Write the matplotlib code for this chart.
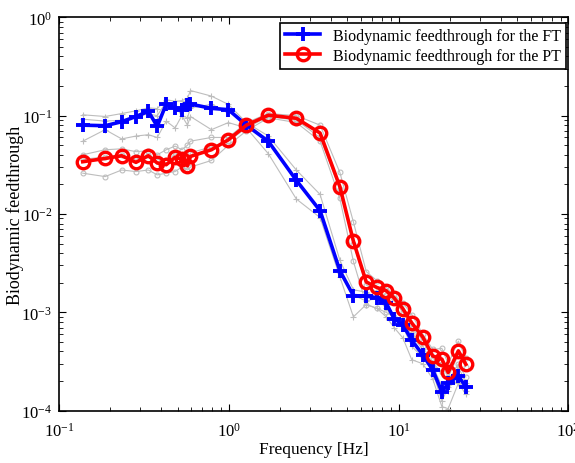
import numpy as np
import matplotlib
matplotlib.use("Agg")
import matplotlib.pyplot as plt

plt.rcParams['font.family'] = ['Liberation Serif', 'DejaVu Serif']
plt.rcParams['mathtext.fontset'] = 'custom'
plt.rcParams['mathtext.rm'] = 'Liberation Serif'

# frekvencije [Hz]
freq = [0.138, 0.187, 0.234, 0.284, 0.336, 0.379, 0.428, 0.483, 0.529, 0.571,
        0.595, 0.79, 0.995, 1.27, 1.71, 2.5, 3.45, 4.51, 5.42, 6.45,
        7.45, 8.45, 9.42, 10.6, 11.96, 13.9, 15.9, 18.0, 19.6, 22.5, 24.9]

# srednje vrijednosti
bdft_ft = [0.080, 0.079, 0.0867, 0.098, 0.1106, 0.0778, 0.131, 0.1186, 0.115, 0.128,
           0.131, 0.1186, 0.115, 0.080, 0.0548, 0.022, 0.0108, 0.00265, 0.00148, 0.00146,
           0.00141, 0.00125, 0.00086, 0.00075, 0.00052, 0.00037, 0.00026, 0.000155, 0.00019, 0.000225, 0.000175]
bdft_pt = [0.034, 0.0367, 0.0391, 0.0335, 0.0391, 0.033, 0.0317, 0.0377, 0.0362, 0.0309,
           0.0385, 0.045, 0.0569, 0.080, 0.101, 0.094, 0.0665, 0.019, 0.0053, 0.00204,
           0.00179, 0.00166, 0.0014, 0.00109, 0.00078, 0.00056, 0.00036, 0.000334, 0.000245, 0.000406, 0.000297]

# pojedinacni ispitanici (sivo)
ft_s1 = [0.102, 0.098, 0.105, 0.112, 0.120, 0.118, 0.145, 0.140, 0.142, 0.150,
         0.180, 0.158, 0.130, 0.085, 0.062, 0.028, 0.0158, 0.0034, 0.0017, 0.0016,
         0.0014, 0.00122, 0.0009, 0.00078, 0.00058, 0.00042, 0.00028, 0.00018, 0.00016, 0.00028, 0.00019]
ft_s2 = [0.092, 0.088, 0.090, 0.098, 0.104, 0.100, 0.138, 0.125, 0.100, 0.095,
         0.120, 0.130, 0.110, 0.085, 0.055, 0.022, 0.0105, 0.0025, 0.0015, 0.0013,
         0.0014, 0.0011, 0.00085, 0.00072, 0.00045, 0.00035, 0.00025, 0.000125, 0.000175, 0.00020, 0.00016]
ft_s3 = [0.055, 0.072, 0.058, 0.062, 0.064, 0.060, 0.088, 0.075, 0.100, 0.080,
         0.098, 0.072, 0.085, 0.075, 0.041, 0.0142, 0.0092, 0.0023, 0.0009, 0.0012,
         0.0011, 0.0009, 0.0007, 0.00055, 0.00033, 0.00030, 0.00021, 0.00011, 0.000105, 0.00019, 0.000147]
pt_s1 = [0.040, 0.045, 0.046, 0.043, 0.044, 0.040, 0.045, 0.049, 0.045, 0.050,
         0.055, 0.060, 0.060, 0.085, 0.105, 0.100, 0.080, 0.0265, 0.0083, 0.0026,
         0.0021, 0.0018, 0.0015, 0.00125, 0.00095, 0.00060, 0.00042, 0.00043, 0.00030, 0.00051, 0.00034]
pt_s2 = [0.036, 0.038, 0.040, 0.036, 0.040, 0.036, 0.035, 0.040, 0.038, 0.034,
         0.042, 0.048, 0.055, 0.075, 0.098, 0.090, 0.060, 0.0180, 0.0050, 0.0019,
         0.0016, 0.0015, 0.0013, 0.0010, 0.00070, 0.00052, 0.00034, 0.00030, 0.00022, 0.00037, 0.00028]
pt_s3 = [0.026, 0.024, 0.028, 0.027, 0.028, 0.025, 0.026, 0.027, 0.030, 0.028,
         0.030, 0.035, 0.050, 0.070, 0.095, 0.085, 0.055, 0.0144, 0.0033, 0.0012,
         0.0011, 0.0010, 0.0009, 0.00075, 0.0006, 0.00045, 0.00030, 0.00025, 0.00020, 0.00030, 0.00022]

fig = plt.figure(figsize=(5.75, 4.64), dpi=100)
ax = fig.add_axes([0.1026, 0.1127, 0.8858, 0.8479])

grey = (0.74, 0.74, 0.74)
for s in [ft_s1, ft_s2, ft_s3]:
    ax.plot(freq, s, color=grey, lw=0.8, marker='+', ms=4, mew=0.8)
for s in [pt_s1, pt_s2, pt_s3]:
    ax.plot(freq, s, color=grey, lw=0.8, marker='o', ms=3.5, mfc='none', mew=0.8)

ax.plot(freq, bdft_ft, color='#0000ff', lw=2.6, marker='+', ms=10, mew=2.8,
        label='Biodynamic feedthrough for the FT')
ax.plot(freq, bdft_pt, color='#ff0000', lw=2.6, marker='o', ms=9, mfc='none', mew=2.4,
        label='Biodynamic feedthrough for the PT')

ax.set_xscale('log')
ax.set_yscale('log')
ax.set_xlim(0.1, 100)
ax.set_ylim(1e-4, 1)

ax.tick_params(which='both', direction='in', top=True, right=True, labelsize=12)
ax.tick_params(axis='x', which='major', pad=8)
ax.tick_params(axis='y', which='major', pad=5)
ax.tick_params(which='major', length=5, width=0.8)
ax.tick_params(which='minor', length=3, width=0.6)
for sp in ax.spines.values():
    sp.set_linewidth(1.2)

ax.set_xlabel('Frequency [Hz]', fontsize=12.5, labelpad=1)
ax.set_ylabel('Biodynamic feedthrough', fontsize=13)
ax.yaxis.set_label_coords(-0.068, 0.5)

leg = ax.legend(loc='upper right', bbox_to_anchor=(0.995, 0.985), borderaxespad=0,
                fontsize=11.5, fancybox=False, framealpha=1, edgecolor='black',
                handlelength=2.2, borderpad=0.3, labelspacing=0.25)
leg.get_frame().set_linewidth(1.2)

fig.savefig('out.png', dpi=100)
